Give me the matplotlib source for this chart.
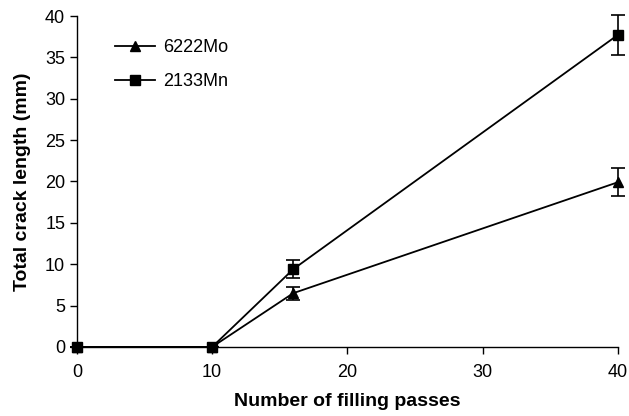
import numpy as np
import matplotlib
matplotlib.use("Agg")
import matplotlib.pyplot as plt
from matplotlib.lines import Line2D

# data
passes = [0, 10, 16, 40]
mo_len = [0.0, 0.0, 6.5, 19.9]
mo_err = [0.0, 0.0, 0.8, 1.7]
mn_len = [0.0, 0.0, 9.4, 37.7]
mn_err = [0.0, 0.0, 1.1, 2.4]
series_names = ["6222Mo", "2133Mn"]

plt.rcParams.update({
    "font.family": ["Liberation Sans", "DejaVu Sans"],
    "xtick.labelsize": 13,
    "ytick.labelsize": 13,
})

fig = plt.figure(figsize=(6.29, 4.16), dpi=100)
ax = fig.add_axes([0.1224, 0.166, 0.8596, 0.7955])

ax.errorbar(passes, mo_len, yerr=mo_err, color="black", marker="^", markersize=7,
            linewidth=1.3, capsize=5, elinewidth=1.2, capthick=1.2)
ax.errorbar(passes, mn_len, yerr=mn_err, color="black", marker="s", markersize=7,
            linewidth=1.3, capsize=5, elinewidth=1.2, capthick=1.2)

ax.set_xlim(0, 40)
ax.set_ylim(0, 40)
ax.set_xticks([0, 10, 20, 30, 40])
ax.set_yticks(np.arange(0, 41, 5))
ax.spines["top"].set_visible(False)
ax.spines["right"].set_visible(False)
ax.tick_params(direction="out", length=5, width=1)
ax.tick_params(axis="x", pad=7)
for sp in ["left", "bottom"]:
    ax.spines[sp].set_linewidth(1)
for ln in ax.lines:
    ln.set_clip_on(False)
for c in ax.collections:
    c.set_clip_on(False)

ax.set_xlabel("Number of filling passes", fontsize=14, fontweight="bold", labelpad=9)
ax.set_ylabel("Total crack length (mm)", fontsize=14, fontweight="bold", labelpad=10)

handles = [Line2D([], [], color="black", marker="^", markersize=7, linewidth=1.3),
           Line2D([], [], color="black", marker="s", markersize=7, linewidth=1.3)]
ax.legend(handles, series_names, loc="upper left", bbox_to_anchor=(0.04, 0.98),
          frameon=False, fontsize=13, handlelength=2.2, handletextpad=0.5,
          labelspacing=0.95)

fig.savefig("out.png", dpi=100)
